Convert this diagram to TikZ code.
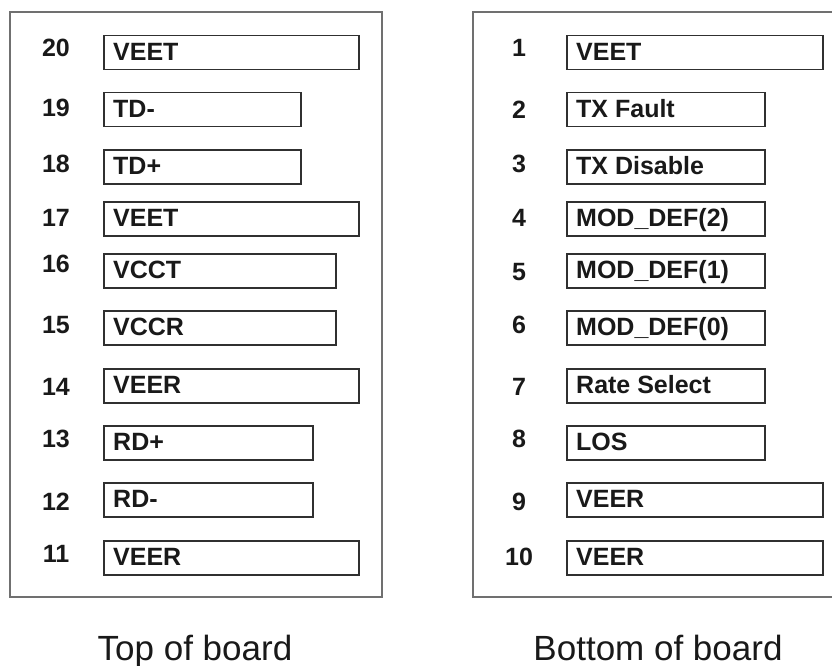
\documentclass[tikz,border=0pt]{standalone}
\usepackage{fontspec}
\setmainfont{Liberation Sans}
\definecolor{boardline}{HTML}{707070}
\definecolor{pinline}{HTML}{303030}
\tikzset{
  board/.style={draw=boardline, line width=2pt},
  pinbox/.style={draw=pinline, line width=1.5pt, rectangle, inner sep=0pt, minimum height=34pt, anchor=north west},
  pinlabel/.style={inner sep=0pt, anchor=base west, font=\fontsize{25}{30}\selectfont\bfseries, text=black!90},
  pinnum/.style={inner sep=0pt, anchor=base, font=\fontsize{25}{30}\selectfont\bfseries, text=black!90},
  caption/.style={inner sep=0pt, anchor=base, font=\fontsize{35}{42}\selectfont, text=black!90}
}
\begin{document}
\begin{tikzpicture}[x=1pt,y=-1pt]
\useasboundingbox (0,0) rectangle (832,666);
% boards
\draw[board] (10,12) rectangle (382,597);
\coordinate (rbtr) at (840,12);
\coordinate (rbbr) at (840,597);
\draw[board] (rbtr) -- (473,12) -- (473,597) -- (rbbr);
% left board pins
\foreach \n/\y/\r/\t/\b in {20/35/358/VEET/57, 19/92/300/TD-/117, 18/149/300/TD+/172, 17/201/358/VEET/226, 16/253/335/VCCT/272, 15/310/335/VCCR/333, 14/368/358/VEER/395, 13/425/312/RD+/447, 12/482/312/RD-/510, 11/540/358/VEER/562}{
  \pgfmathsetmacro{\w}{\r-103}
  \node[pinbox, minimum width=\w pt] (p\n) at (103,\y) {};
  \node[pinlabel] (t\n) at ([xshift=10pt,yshift=10pt]p\n.south west) {\t};
  \node[pinnum] (n\n) at (56,\b) {\n};
}
% right board pins
\foreach \n/\y/\r/\t/\b in {1/35/822/VEET/57, 2/92/764/TX Fault/119, 3/149/764/TX Disable/172, 4/201/764/MOD\_DEF(2)/226, 5/253/764/MOD\_DEF(1)/280, 6/310/764/MOD\_DEF(0)/333, 7/368/764/Rate Select/395, 8/425/764/LOS/447, 9/482/822/VEER/510, 10/540/822/VEER/565}{
  \pgfmathsetmacro{\w}{\r-566}
  \node[pinbox, minimum width=\w pt] (p\n) at (566,\y) {};
  \node[pinlabel] (t\n) at ([xshift=10pt,yshift=10pt]p\n.south west) {\t};
  \node[pinnum] (n\n) at (519,\b) {\n};
}
\node[caption] (captop) at (195,660) {Top of board};
\node[caption] (capbot) at (658,660) {Bottom of board};
\end{tikzpicture}
\end{document}
